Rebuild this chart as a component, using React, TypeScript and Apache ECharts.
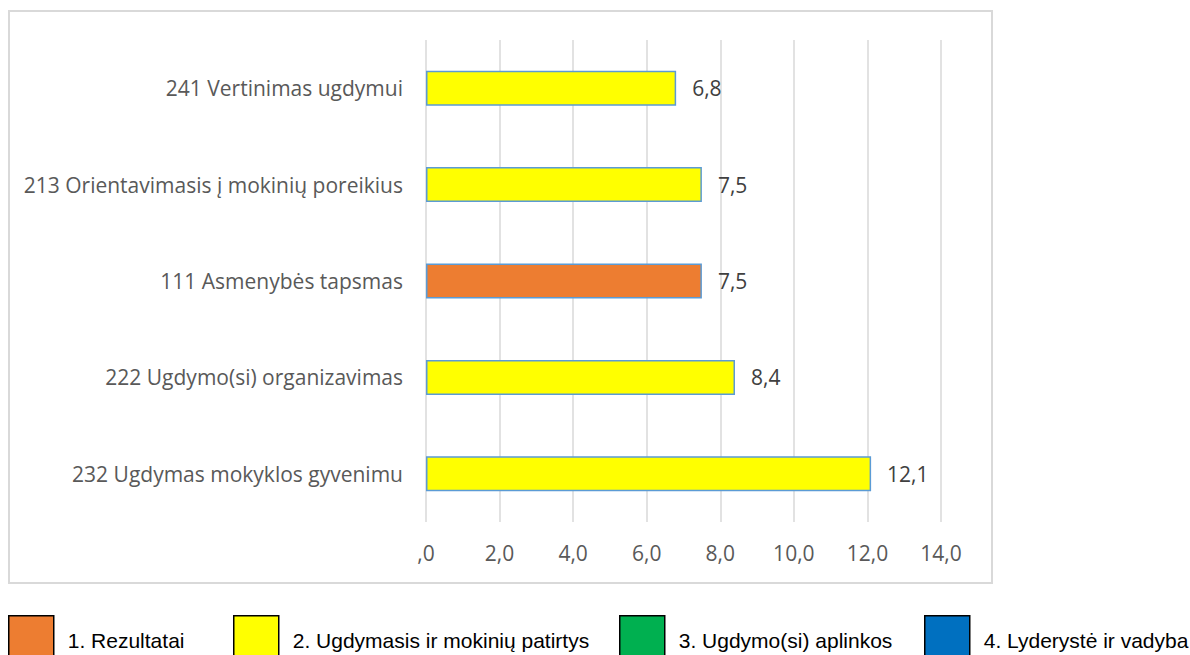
import React, { useEffect, useRef } from "react";
import * as echarts from "echarts";

const categories = [
  "241 Vertinimas ugdymui",
  "213 Orientavimasis į mokinių poreikius",
  "111 Asmenybės tapsmas",
  "222 Ugdymo(si) organizavimas",
  "232 Ugdymas mokyklos gyvenimu",
];
// group of each category (index into groupNames)
const categoryGroup = [1, 1, 0, 1, 1];
const values = [6.8, 7.5, 7.5, 8.4, 12.1];
const groupNames = [
  "1. Rezultatai",
  "2. Ugdymasis ir mokinių patirtys",
  "3. Ugdymo(si) aplinkos",
  "4. Lyderystė ir vadyba",
];
const groupColors = ["#ED7D31", "#FFFF00", "#00B050", "#0070C0"];
const axisTicks = [0, 2, 4, 6, 8, 10, 12, 14];
const legendLefts = [8, 233, 619, 924];

const fmt = (v: number) => (v === 0 ? ",0" : v.toFixed(1).replace(".", ","));

export default function App() {
  const ref = useRef<HTMLDivElement>(null);
  useEffect(() => {
    if (!ref.current) return;
    const chart = echarts.init(ref.current, null, { renderer: "svg" });
    const series = groupNames.map((name, gi) => ({
      name,
      type: "bar",
      stack: "all",
      barWidth: 35,
      data: values.map((v, i) => (categoryGroup[i] === gi ? v : null)),
      itemStyle: {
        color: groupColors[gi],
        borderColor: "#5B9BD5",
        borderWidth: 1.5,
      },
      label: {
        show: true,
        position: "right",
        distance: 16,
        color: "#404040",
        fontFamily: "Open Sans",
        fontSize: 21,
        formatter: (p: any) => fmt(p.value),
      },
    }));
    chart.setOption({
      animation: false,
      backgroundColor: "#fff",
      grid: { left: 426, right: 249, top: 40, bottom: 133, containLabel: false },
      xAxis: {
        type: "value",
        min: axisTicks[0],
        max: axisTicks[axisTicks.length - 1],
        interval: 2,
        axisLine: { show: false },
        axisTick: { show: false },
        splitLine: { lineStyle: { color: "#D9D9D9", width: 1.5 } },
        axisLabel: {
          color: "#595959",
          fontFamily: "Open Sans",
          fontSize: 21,
          margin: 20,
          formatter: (v: number) => fmt(v),
        },
      },
      yAxis: {
        type: "category",
        inverse: true,
        data: categories,
        axisLine: { show: false },
        axisTick: { show: false },
        axisLabel: {
          color: "#595959",
          fontFamily: "Open Sans",
          fontSize: 21,
          margin: 23,
        },
      },
      legend: groupNames.map((name, gi) => ({
        data: [
          {
            name,
            icon: "rect",
            itemStyle: { color: groupColors[gi], borderColor: "#000", borderWidth: 1.5 },
          },
        ],
        left: legendLefts[gi],
        top: 615,
        padding: 0,
        itemWidth: 45,
        itemHeight: 50,
        itemGap: 0,
        selectedMode: false,
        textStyle: {
          fontFamily: "Liberation Sans",
          fontSize: 21,
          color: "#000",
          padding: [0, 0, 0, 9],
        },
      })),
      graphic: [
        {
          type: "rect",
          shape: { x: 9, y: 11, width: 983, height: 572 },
          style: { fill: "none", stroke: "#D9D9D9", lineWidth: 2 },
          silent: true,
        },
      ],
      series,
    });
    return () => chart.dispose();
  }, []);
  return (
    <div
      ref={ref}
      style={{ position: "fixed", left: 0, top: 0, width: 1190, height: 655 }}
    />
  );
}
